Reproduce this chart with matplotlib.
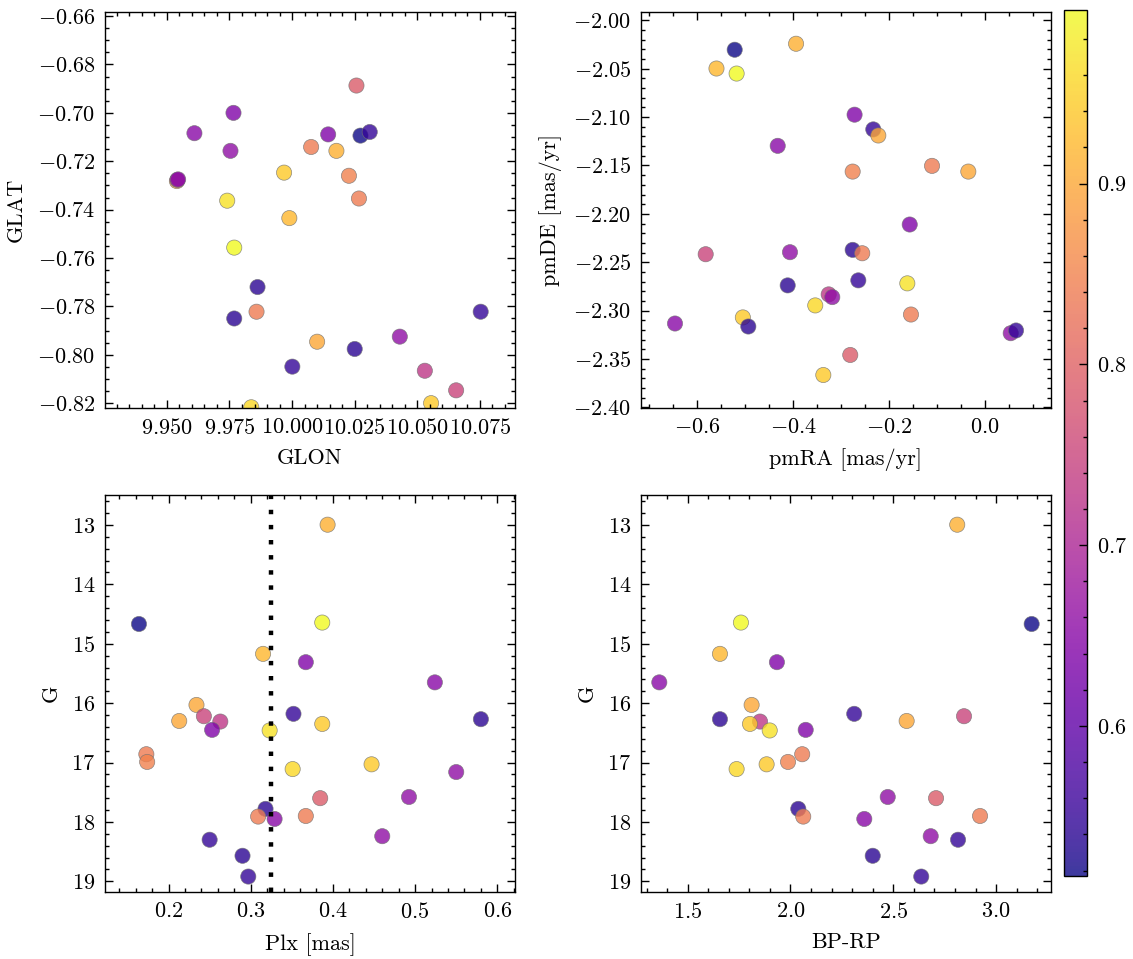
import numpy as np
import matplotlib
matplotlib.use("Agg")
import matplotlib.pyplot as plt
from matplotlib.ticker import MultipleLocator

plt.rcParams.update({
    "font.family": "serif",
    "font.serif": ["cmr10"],
    "mathtext.fontset": "cm",
    "axes.formatter.use_mathtext": True,
    "font.size": 8,
    "axes.linewidth": 0.5,
    "xtick.direction": "in",
    "ytick.direction": "in",
    "xtick.top": True,
    "ytick.right": True,
    "xtick.minor.visible": True,
    "ytick.minor.visible": True,
    "xtick.major.size": 3,
    "ytick.major.size": 3,
    "xtick.minor.size": 1.5,
    "ytick.minor.size": 1.5,
    "xtick.major.width": 0.5,
    "ytick.major.width": 0.5,
    "xtick.minor.width": 0.5,
    "ytick.minor.width": 0.5,
})

# Per-star data
G = [12.995, 14.667, 14.643, 15.17, 15.31, 15.65, 16.03, 16.18, 16.22, 16.27,
     16.30, 16.31, 16.35, 16.45, 16.46, 16.86, 16.99, 17.03, 17.11, 17.16,
     17.60, 17.58, 17.78, 17.91, 17.90, 17.95, 18.24, 18.30, 18.57, 18.92]
plx = [0.3935, 0.164, 0.387, 0.315, 0.367, 0.524, 0.234, 0.352, 0.243, 0.580,
       0.213, 0.263, 0.387, 0.253, 0.323, 0.173, 0.174, 0.447, 0.351, 0.550,
       0.3845, 0.4925, 0.318, 0.309, 0.367, 0.329, 0.460, 0.250, 0.290, 0.297]
bp_rp = [2.811, 3.173, 1.759, 1.657, 1.934, 1.362, 1.811, 2.310, 2.844, 1.657,
         2.565, 1.852, 1.803, 2.074, 1.899, 2.057, 1.988, 1.884, 1.738, np.nan,
         2.708, 2.473, 2.038, 2.062, 2.922, 2.359, 2.682, 2.815, 2.400, 2.636]
prob = [0.91, 0.517, 0.996, 0.92, 0.64, 0.65, 0.90, 0.55, 0.75, 0.54,
        0.90, 0.73, 0.94, 0.64, 0.97, 0.84, 0.85, 0.94, 0.96, 0.66,
        0.79, 0.66, 0.54, 0.84, 0.84, 0.65, 0.66, 0.55, 0.54, 0.55]
glon = [10.0177, 10.0273, 9.9769, 9.9989, 9.9766, 9.9610, 9.9540, 10.0310, 10.0655, 9.9862,
        10.0100, 10.0530, 10.0555, 10.0144, 9.9741, 10.0076, 10.0227, 9.9968, 9.9837, 9.9754,
        10.0257, 10.0430, 9.9769, 10.0267, 9.9858, 9.9542, 9.9545, 10.0753, 10.0250, 10.0001]
glat = [-0.7157, -0.7094, -0.7557, -0.7435, -0.7000, -0.7084, -0.7282, -0.7079, -0.8147, -0.7720,
        -0.7946, -0.8066, -0.8200, -0.7089, -0.7363, -0.7141, -0.7260, -0.7247, -0.8217, -0.7157,
        -0.6887, -0.7925, -0.7850, -0.7354, -0.7822, -0.7277, -0.7275, -0.7822, -0.7976, -0.8049]
pmra = [-0.394, -0.522, -0.518, -0.560, -0.272, -0.4323, -0.0348, -0.233, -0.5825, -0.276,
        -0.2225, -0.326, -0.505, -0.157, -0.162, -0.1105, -0.276, -0.3372, -0.354, -0.4067,
        -0.281, -0.3185, -0.4115, -0.256, -0.1544, -0.6465, 0.0536, -0.2642, -0.4936, 0.0647]
pmde = [-2.0242, -2.0304, -2.0550, -2.0498, -2.0975, -2.1297, -2.1563, -2.1127, -2.2417, -2.2372,
        -2.1190, -2.2832, -2.3070, -2.2110, -2.2718, -2.1504, -2.1563, -2.3665, -2.2946, -2.2396,
        -2.3458, -2.2860, -2.2739, -2.2407, -2.3040, -2.3133, -2.3233, -2.2687, -2.3164, -2.3205]
plx_line = 0.325

fig = plt.figure(figsize=(1133/200, 959/200), dpi=200)
W, H = 1133, 959
def pos(l, r, t, b):
    return [l / W, 1 - b / H, (r - l) / W, (b - t) / H]

ax_tl = fig.add_axes(pos(105, 515, 12, 408))
ax_tr = fig.add_axes(pos(641, 1050.7, 12, 408))
ax_bl = fig.add_axes(pos(105, 515, 495, 892))
ax_br = fig.add_axes(pos(641, 1050.7, 495, 892))
cax = fig.add_axes(pos(1064, 1087, 10, 876))

vmin, vmax = min(prob), max(prob)
kw = dict(c=prob, cmap="plasma", vmin=vmin, vmax=vmax, s=30, alpha=0.8,
          edgecolors="0.45", linewidths=0.25)

sc = ax_tl.scatter(glon, glat, **kw)
ax_tl.set_xlim(9.9253, 10.089)
ax_tl.set_ylim(-0.822, -0.6583)
ax_tl.xaxis.set_major_locator(MultipleLocator(0.025))
ax_tl.yaxis.set_major_locator(MultipleLocator(0.02))
ax_tl.set_xlabel("GLON")
ax_tl.set_ylabel("GLAT")

ax_tr.scatter(pmra, pmde, **kw)
ax_tr.set_xlim(-0.7174, 0.137)
ax_tr.set_ylim(-2.4006, -1.9914)
ax_tr.xaxis.set_major_locator(MultipleLocator(0.2))
ax_tr.yaxis.set_major_locator(MultipleLocator(0.05))
ax_tr.set_xlabel("pmRA [mas/yr]")
ax_tr.set_ylabel("pmDE [mas/yr]")

ax_bl.scatter(plx, G, **kw)
ax_bl.axvline(plx_line, color="k", lw=1.6, linestyle=(0, (1, 2.4)))
ax_bl.set_xlim(0.1227, 0.6215)
ax_bl.set_ylim(19.18, 12.495)
ax_bl.xaxis.set_major_locator(MultipleLocator(0.1))
ax_bl.yaxis.set_major_locator(MultipleLocator(1))
ax_bl.set_xlabel("Plx [mas]")
ax_bl.set_ylabel("G")

ax_br.scatter(bp_rp, G, **kw)
ax_br.set_xlim(1.273, 3.2656)
ax_br.set_ylim(19.18, 12.495)
ax_br.xaxis.set_major_locator(MultipleLocator(0.5))
ax_br.yaxis.set_major_locator(MultipleLocator(1))
ax_br.set_xlabel("BP-RP")
ax_br.set_ylabel("G")

cb = fig.colorbar(sc, cax=cax)
cb.outline.set_linewidth(0.5)
cax.minorticks_on()

fig.savefig("out.png", dpi=200)
